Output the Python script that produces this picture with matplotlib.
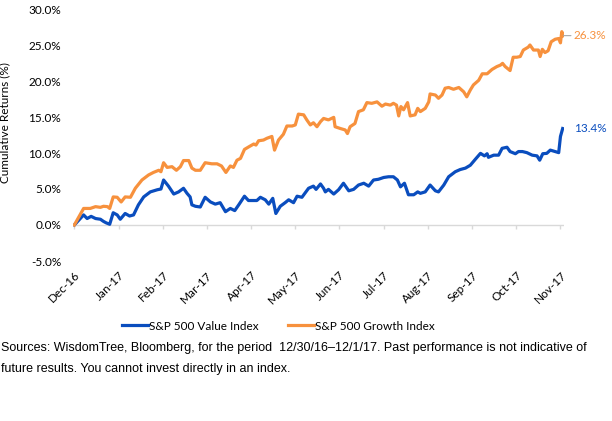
import matplotlib
matplotlib.use("Agg")
import matplotlib.pyplot as plt

# month labels on the x axis (0 = Dec-16 ... 11 = Nov-17)
month_labels = ["Dec-16", "Jan-17", "Feb-17", "Mar-17", "Apr-17", "May-17",
                "Jun-17", "Jul-17", "Aug-17", "Sep-17", "Oct-17", "Nov-17"]

# S&P 500 Value Index, cumulative return (%), position in months
value_t = [0.00, 0.21, 0.29, 0.38, 0.48, 0.59, 0.66, 0.72, 0.80, 0.88, 0.97, 1.04,
           1.15, 1.25, 1.34, 1.45, 1.57, 1.72, 1.88, 1.96, 2.02, 2.13, 2.25, 2.36,
           2.47, 2.55, 2.62, 2.66, 2.74, 2.85, 2.96, 3.08, 3.19, 3.30, 3.42, 3.53,
           3.63, 3.72, 3.85, 3.94, 4.13, 4.21, 4.32, 4.40, 4.49, 4.56, 4.66, 4.77,
           4.85, 4.96, 5.04, 5.15, 5.30, 5.41, 5.47, 5.57, 5.64, 5.68, 5.75, 5.87,
           5.98, 6.09, 6.21, 6.32, 6.43, 6.55, 6.66, 6.77, 6.88, 7.00, 7.11, 7.22,
           7.31, 7.38, 7.47, 7.56, 7.68, 7.77, 7.83, 7.94, 8.05, 8.17, 8.24, 8.36,
           8.47, 8.62, 8.73, 8.85, 8.96, 9.07, 9.19, 9.28, 9.34, 9.37, 9.49, 9.60,
           9.68, 9.79, 9.86, 9.98, 10.05, 10.14, 10.24, 10.36, 10.47, 10.53, 10.60,
           10.69, 10.77, 10.88, 10.96, 11.00, 11.05]
value_ret = [0.0, 1.4, 0.9, 1.2, 0.9, 0.8, 0.5, 0.3, 0.1, 1.7, 1.4, 0.8,
             1.6, 1.25, 1.4, 2.8, 3.9, 4.6, 4.9, 5.0, 6.25, 5.4, 4.3, 4.6,
             5.1, 4.4, 3.9, 2.8, 2.6, 2.5, 3.85, 3.2, 2.9, 3.1, 1.85, 2.3,
             2.0, 2.8, 4.0, 3.4, 3.4, 3.85, 3.5, 2.9, 3.7, 1.6, 2.6, 3.1,
             3.5, 3.1, 4.0, 3.85, 5.1, 5.4, 4.95, 5.7, 5.1, 4.6, 4.95, 4.3,
             4.9, 5.8, 4.75, 4.95, 5.55, 5.8, 5.4, 6.25, 6.35, 6.6, 6.7, 6.7,
             6.25, 5.3, 5.8, 4.2, 4.2, 4.6, 4.4, 4.6, 5.55, 4.75, 4.6, 5.55,
             6.7, 7.4, 7.7, 7.9, 8.3, 9.1, 9.95, 9.6, 9.9, 9.4, 9.7, 9.7,
             10.65, 10.8, 10.2, 9.9, 10.2, 10.2, 10.05, 9.7, 9.6, 9.0, 9.9,
             9.95, 10.4, 10.2, 10.05, 12.3, 13.4]

# S&P 500 Growth Index, cumulative return (%), position in months
growth_t = [0.00, 0.21, 0.36, 0.48, 0.59, 0.66, 0.75, 0.80, 0.88, 0.97, 1.06, 1.15,
            1.27, 1.38, 1.53, 1.68, 1.79, 1.91, 1.96, 2.02, 2.10, 2.21, 2.31, 2.40,
            2.47, 2.59, 2.66, 2.74, 2.85, 2.96, 3.11, 3.23, 3.33, 3.43, 3.53, 3.60,
            3.68, 3.76, 3.85, 3.96, 4.06, 4.11, 4.17, 4.28, 4.36, 4.47, 4.53, 4.62,
            4.73, 4.81, 4.93, 5.00, 5.07, 5.19, 5.26, 5.34, 5.41, 5.49, 5.57, 5.64,
            5.75, 5.87, 5.90, 6.02, 6.13, 6.18, 6.24, 6.35, 6.43, 6.54, 6.62, 6.73,
            6.85, 6.96, 7.04, 7.15, 7.22, 7.29, 7.34, 7.39, 7.45, 7.54, 7.60, 7.71,
            7.77, 7.83, 7.94, 8.02, 8.05, 8.17, 8.24, 8.32, 8.39, 8.47, 8.58, 8.70,
            8.81, 8.88, 8.96, 9.03, 9.15, 9.23, 9.34, 9.45, 9.56, 9.64, 9.69, 9.75,
            9.86, 9.93, 10.01, 10.09, 10.16, 10.27, 10.31, 10.39, 10.50, 10.54, 10.59,
            10.65, 10.72, 10.79, 10.88, 10.96, 11.00, 11.03, 11.07]
growth_ret = [0.0, 2.3, 2.3, 2.55, 2.45, 2.6, 2.55, 2.3, 3.9, 3.85, 3.2, 3.9,
              3.85, 5.1, 6.25, 6.95, 7.3, 7.6, 7.4, 8.65, 8.0, 8.1, 7.6, 8.1,
              8.95, 8.95, 7.9, 7.6, 7.6, 8.65, 8.5, 8.5, 8.2, 7.3, 8.2, 8.0,
              9.0, 9.25, 10.5, 10.9, 11.25, 11.1, 11.7, 11.8, 12.05, 12.3, 10.4, 11.8,
              12.6, 13.75, 13.75, 13.9, 15.4, 15.3, 14.6, 13.9, 14.2, 13.65, 14.35, 14.8,
              14.6, 14.95, 13.65, 13.4, 13.2, 12.7, 13.65, 14.1, 15.75, 16.0, 17.0, 16.9,
              17.1, 16.5, 16.8, 16.65, 16.9, 16.65, 15.15, 16.45, 16.0, 17.0, 15.15, 15.3,
              16.2, 15.75, 16.2, 17.1, 18.2, 18.05, 17.6, 18.05, 19.0, 19.1, 18.85, 19.1,
              18.5, 17.8, 18.75, 19.45, 20.1, 21.0, 21.0, 21.6, 22.0, 22.2, 22.45, 22.0,
              21.45, 23.3, 23.3, 23.4, 24.3, 24.7, 25.0, 24.3, 24.3, 23.4, 24.4,
              23.95, 24.2, 25.45, 25.8, 25.9, 25.3, 26.85, 26.3]

yticks = [-5, 0, 5, 10, 15, 20, 25, 30]

blue = '#0A4DBE'
orange = '#F7913D'
gray = '#D9D9D9'
font = 'Lato'

fig = plt.figure(figsize=(6.12, 4.21), dpi=100)
ax = fig.add_axes([73 / 612, 1 - 261 / 421, 491 / 612, 252 / 421])

ax.plot(value_t, value_ret, color=blue, lw=2.3, label='S&P 500 Value Index',
        solid_joinstyle='round')
ax.plot(growth_t, growth_ret, color=orange, lw=2.3, label='S&P 500 Growth Index',
        solid_joinstyle='round')

# zero line with small tick marks, like Excel's category axis
ax.axhline(0, color=gray, lw=1, zorder=0)
months = list(range(len(month_labels)))
ax.vlines(months, -0.55, 0, color=gray, lw=1, zorder=0)

ax.set_xlim(-0.03, 11.08)
ax.set_ylim(-5, 30)
ax.set_yticks(yticks)
ax.set_yticklabels([f'{v:.1f}%' for v in yticks], fontsize=8.5, family=font)
ax.set_xticks(months)
ax.set_xticklabels(month_labels, rotation=45, ha='right', rotation_mode='anchor',
                   fontsize=8.5, family=font)
ax.tick_params(axis='both', length=0)
ax.tick_params(axis='y', pad=8.5)
ax.tick_params(axis='x', pad=6)
for s in ax.spines.values():
    s.set_visible(False)

ax.set_ylabel('Cumulative Returns (%)', fontsize=8.5, family=font)
ax.yaxis.set_label_coords(-0.128, 0.55)

# end-point labels
ax.annotate(f'{growth_ret[-1]:.1f}%', xy=(growth_t[-1], growth_ret[-1]),
            xytext=(11.3, growth_ret[-1]), color=orange, fontsize=8.5, family=font,
            va='center', arrowprops=dict(arrowstyle='-', color='#A6A6A6', lw=0.8,
                                         shrinkA=0, shrinkB=0))
ax.annotate(f'{value_ret[-1]:.1f}%', xy=(value_t[-1], value_ret[-1]),
            xytext=(11.3, value_ret[-1]), color=blue, fontsize=8.5, family=font,
            va='center')

fig.legend(loc='center', bbox_to_anchor=(0.455, 1 - 326 / 421), ncol=2, frameon=False,
           prop={'family': font, 'size': 8.5}, handlelength=2.2, handletextpad=0.1,
           columnspacing=2.5)

fig.text(0.002, 1 - 342 / 421,
         'Sources: WisdomTree, Bloomberg, for the period  12/30/16\u201312/1/17. '
         'Past performance is not indicative of\nfuture results. You cannot invest '
         'directly in an index.',
         fontsize=9, family='Liberation Sans', va='top', linespacing=2.0)

fig.savefig('out.png', dpi=100)
